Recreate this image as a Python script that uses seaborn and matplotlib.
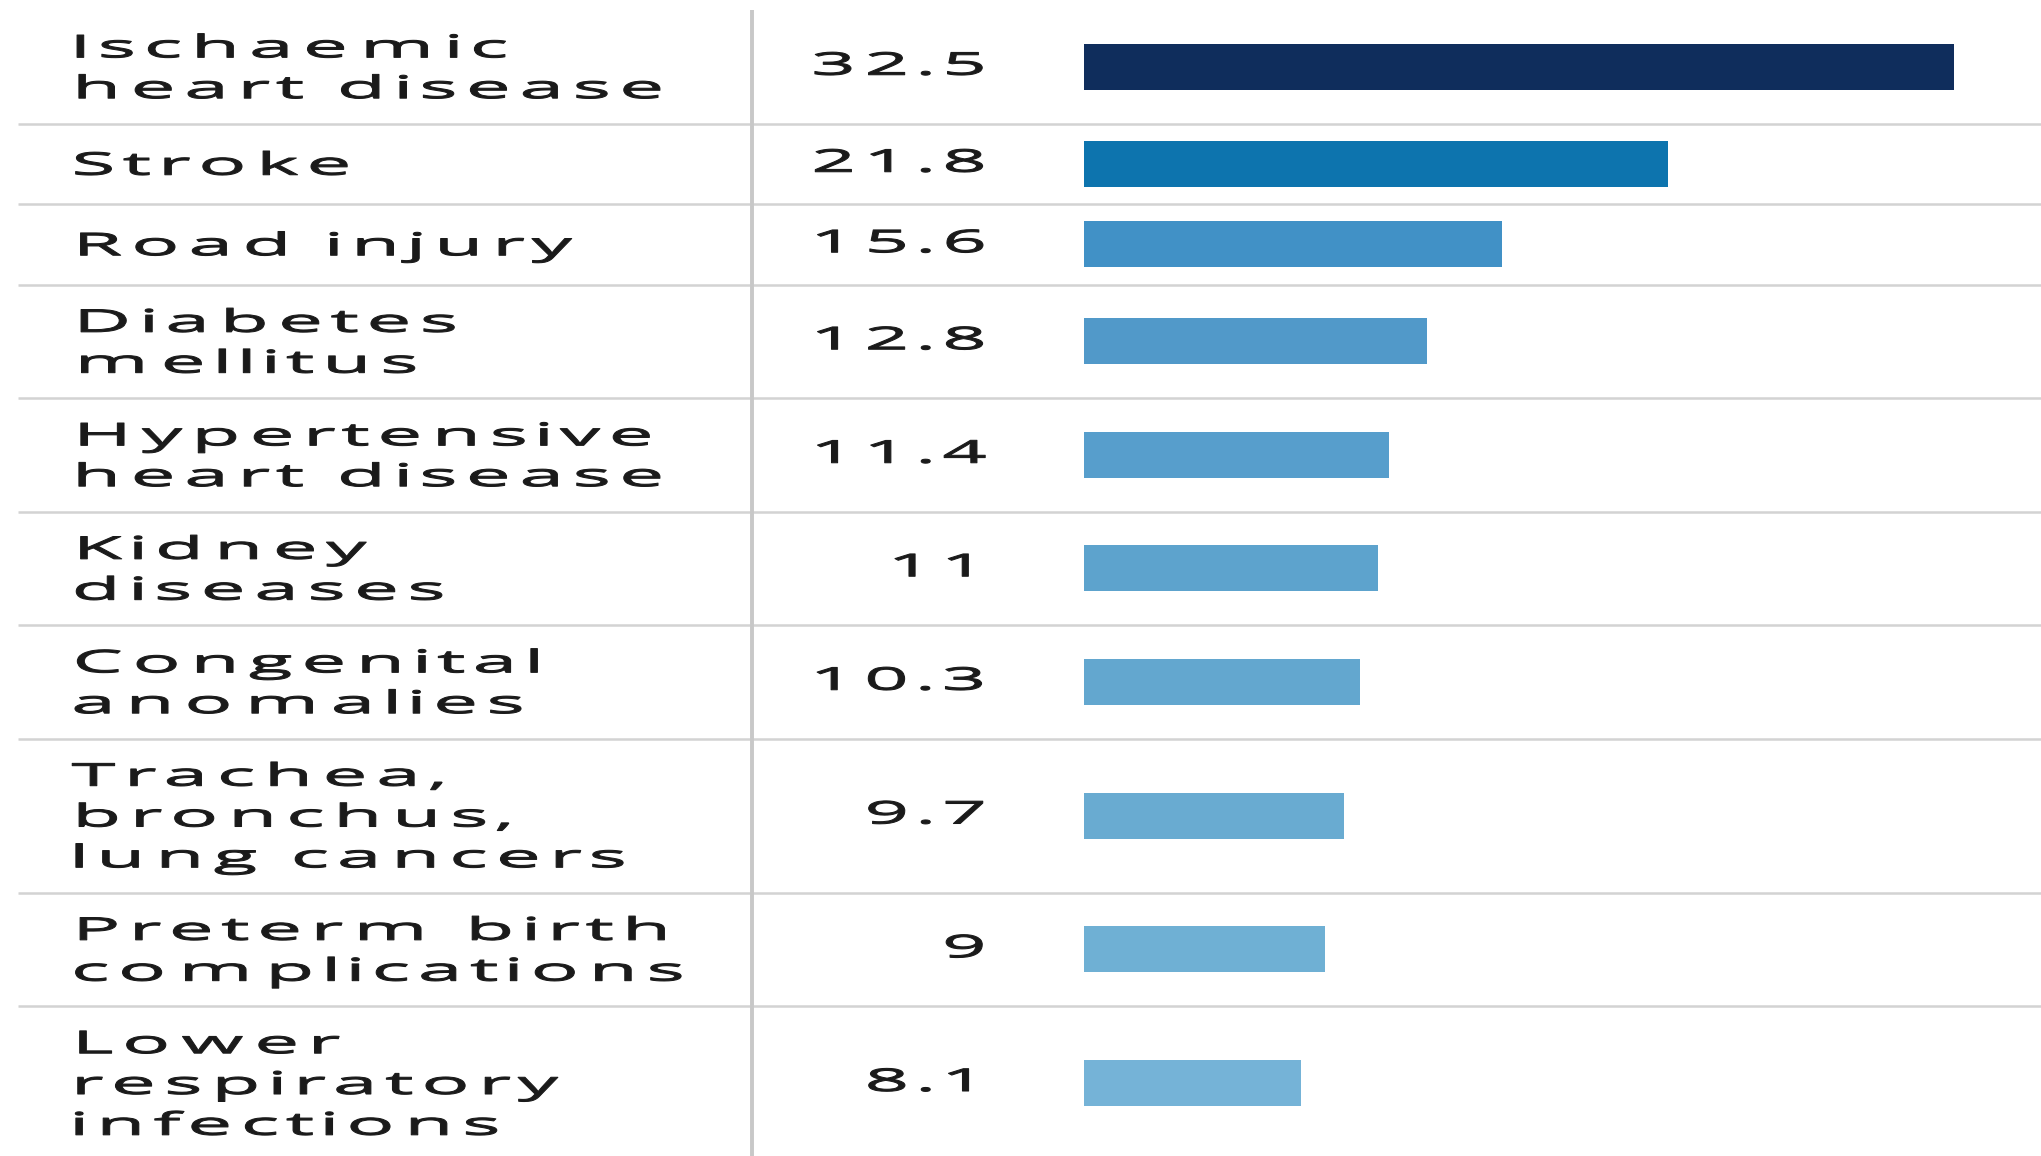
import numpy as np
import matplotlib
matplotlib.use("Agg")
import matplotlib.pyplot as plt
from matplotlib.path import Path
from matplotlib.patheffects import AbstractPathEffect
import seaborn as sns

# Leading causes of death: rate per cause
causes = [
    "Ischaemic\nheart disease",
    "Stroke",
    "Road injury",
    "Diabetes\nmellitus",
    "Hypertensive\nheart disease",
    "Kidney\ndiseases",
    "Congenital\nanomalies",
    "Trachea,\nbronchus,\nlung cancers",
    "Preterm birth\ncomplications",
    "Lower\nrespiratory\ninfections",
]
rates = [32.5, 21.8, 15.6, 12.8, 11.4, 11.0, 10.3, 9.7, 9.0, 8.1]

bar_colors = ["#0f2d5c", "#0d74ae", "#4191c6", "#5199c9", "#579ecc",
              "#5da3cd", "#63a7cf", "#69abd1", "#6fb0d4", "#75b3d7"]


class WideSet(AbstractPathEffect):
    """Draw glyphs widened and letter-spaced about the text's anchor point."""

    def __init__(self, text, widen=2.55, spread=0.53, weight=0.75):
        super().__init__()
        self.text = text
        self.widen = widen
        self.spread = spread
        self.weight = weight

    def draw_path(self, renderer, gc, tpath, affine, rgbFace=None):
        verts = np.asarray(tpath.vertices, float)
        codes = tpath.codes
        if codes is None or len(verts) == 0:
            renderer.draw_path(gc, tpath, affine, rgbFace)
            return
        real = codes != Path.CLOSEPOLY
        # anchor of the text in display space, mapped back into glyph units
        disp = self.text.get_transform().transform(self.text.get_unitless_position())
        xa = affine.inverted().transform([[disp[0], disp[1]]])[0, 0]
        if self.text.get_horizontalalignment() == "left":
            xa = 0.0
        starts = np.flatnonzero(codes == Path.MOVETO)
        ends = np.append(starts[1:], len(verts))
        out = verts.copy()
        for s, e in zip(starts, ends):
            xs = verts[s:e, 0]
            m = real[s:e]
            cx = 0.5 * (xs[m].min() + xs[m].max())
            out[s:e, 0] = xa + (xs - xa) * self.widen + self.spread * (cx - xa)
        gc.set_linewidth(self.weight)
        renderer.draw_path(gc, Path(out, codes), affine, rgbFace)


sns.set_theme(style="white")
plt.rcParams["font.family"] = ["Open Sans", "DejaVu Sans"]

W, H, DPI = 2041, 1156, 100
fig = plt.figure(figsize=(W / DPI, H / DPI), dpi=DPI)
fig.patch.set_facecolor("white")

# Row geometry (pixels): height depends on the number of text lines
row_h = {1: 80.5, 2: 113.5, 3: 154.0}
top = 10.0
n_lines = [c.count("\n") + 1 for c in causes]
edges = [top]
for n in n_lines:
    edges.append(edges[-1] + row_h[n])
centers = [(a + b) / 2 for a, b in zip(edges[:-1], edges[1:])]

# Table layer: separators and texts in pixel coordinates
tab = fig.add_axes([0, 0, 1, 1])
tab.set_xlim(0, W)
tab.set_ylim(H, 0)
tab.axis("off")

label_x, value_x, divider_x = 67, 991, 752
for y in edges[1:-1]:
    tab.plot([18, W], [y, y], color="#d3d3d3", lw=1.8, solid_capstyle="butt", zorder=1)
tab.plot([divider_x, divider_x], [top, H], color="#c8c8c8", lw=2.8, solid_capstyle="butt", zorder=1)

fs = 22.5
for name, val, yc in zip(causes, rates, centers):
    t1 = tab.text(label_x, yc + 3, name, ha="left", va="center", fontsize=fs,
                  color="#1a1a1a", linespacing=1.47, multialignment="left")
    t1.set_path_effects([WideSet(t1)])
    t2 = tab.text(value_x, yc, f"{val:g}", ha="right", va="center", fontsize=fs,
                  color="#1a1a1a")
    t2.set_path_effects([WideSet(t2, widen=2.47, spread=0.51)])

# Bars on their own value axis
bar_left, bar_px_per_unit = 1084, 870 / 32.5
ax = fig.add_axes([bar_left / W, 0, (W - bar_left) / W, 1])
ax.patch.set_alpha(0)
bar_thickness = 46.0
spacing = np.min(np.diff(sorted(centers)))
sns.barplot(x=rates, y=centers, hue=causes, palette=bar_colors, orient="y",
            native_scale=True, dodge=False, legend=False, saturation=1,
            width=bar_thickness / spacing, linewidth=0, ax=ax)
ax.set_xlim(0, (W - bar_left) / bar_px_per_unit)
ax.set_ylim(H, 0)
ax.axis("off")

fig.savefig("out.png", dpi=DPI, facecolor="white")
